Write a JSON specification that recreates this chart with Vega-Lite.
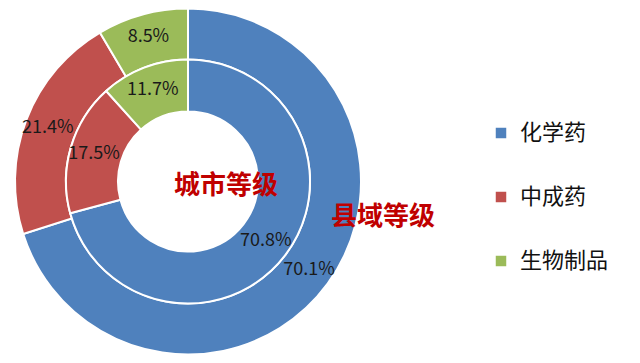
{
  "$schema": "https://vega.github.io/schema/vega-lite/v6.json",
  "width": 376,
  "height": 363,
  "padding": 0,
  "autosize": {"type": "pad"},
  "background": "white",
  "config": {"view": {"stroke": null}, "font": "Noto Sans CJK SC"},
  "datasets": {
    "outer": [
      {"类别": "化学药", "占比": 0.701, "序号": 1},
      {"类别": "中成药", "占比": 0.214, "序号": 2},
      {"类别": "生物制品", "占比": 0.085, "序号": 3}
    ],
    "inner": [
      {"类别": "化学药", "占比": 0.708, "序号": 1},
      {"类别": "中成药", "占比": 0.175, "序号": 2},
      {"类别": "生物制品", "占比": 0.117, "序号": 3}
    ],
    "titles": [
      {"名称": "城市等级", "环": "内"},
      {"名称": "县域等级", "环": "外"}
    ]
  },
  "layer": [
    {
      "data": {"name": "outer"},
      "mark": {"type": "arc", "outerRadius": 173, "innerRadius": 122, "stroke": "white", "strokeWidth": 2},
      "encoding": {
        "theta": {"field": "占比", "type": "quantitative", "stack": true},
        "order": {"field": "序号", "type": "quantitative"},
        "color": {
          "field": "类别", "type": "nominal",
          "scale": {"domain": ["化学药", "中成药", "生物制品"], "range": ["#4F81BD", "#C0504D", "#9BBB59"]},
          "legend": {
            "title": null, "orient": "none", "legendX": 490, "legendY": 122,
            "symbolType": "square", "symbolSize": 110, "symbolStrokeWidth": 0,
            "labelFontSize": 22, "labelColor": "#111111", "labelFont": "Noto Sans CJK SC",
            "rowPadding": 42, "labelOffset": 8, "labelLimit": 200
          }
        }
      }
    },
    {
      "data": {"name": "inner"},
      "mark": {"type": "arc", "outerRadius": 122, "innerRadius": 70, "stroke": "white", "strokeWidth": 2},
      "encoding": {
        "theta": {"field": "占比", "type": "quantitative", "stack": true},
        "order": {"field": "序号", "type": "quantitative"},
        "color": {"field": "类别", "type": "nominal"}
      }
    },
    {
      "data": {"name": "outer"},
      "mark": {"type": "text", "radius": 150, "fontSize": 18, "color": "#1a1a1a", "font": "Noto Sans CJK SC"},
      "encoding": {
        "theta": {"field": "占比", "type": "quantitative", "stack": true},
        "order": {"field": "序号", "type": "quantitative"},
        "detail": {"field": "类别", "type": "nominal"},
        "text": {"field": "占比", "type": "quantitative", "format": ".1%"}
      }
    },
    {
      "data": {"name": "inner"},
      "mark": {"type": "text", "radius": 98, "fontSize": 18, "color": "#1a1a1a", "font": "Noto Sans CJK SC"},
      "encoding": {
        "theta": {"field": "占比", "type": "quantitative", "stack": true},
        "order": {"field": "序号", "type": "quantitative"},
        "detail": {"field": "类别", "type": "nominal"},
        "text": {"field": "占比", "type": "quantitative", "format": ".1%"}
      }
    },
    {
      "data": {"name": "titles"},
      "transform": [{"filter": "datum['环'] == '内'"}],
      "mark": {"type": "text", "fontSize": 26, "fontWeight": "bold", "color": "#C00000", "dx": 38, "dy": 4, "font": "Noto Sans CJK SC"},
      "encoding": {"text": {"field": "名称", "type": "nominal"}}
    },
    {
      "data": {"name": "titles"},
      "transform": [{"filter": "datum['环'] == '外'"}],
      "mark": {"type": "text", "fontSize": 26, "fontWeight": "bold", "color": "#C00000", "dx": 195, "dy": 35, "font": "Noto Sans CJK SC"},
      "encoding": {"text": {"field": "名称", "type": "nominal"}}
    }
  ]
}
